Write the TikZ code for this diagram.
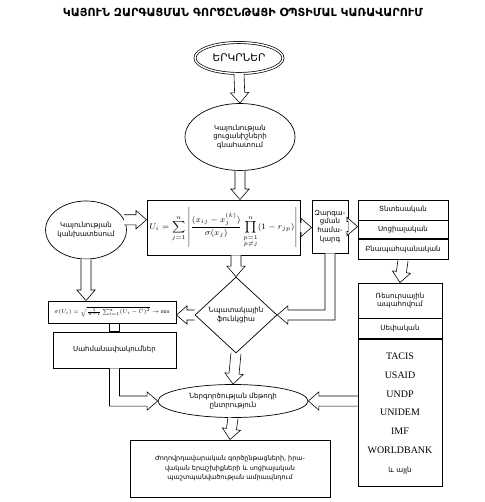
\documentclass[tikz,border=0pt]{standalone}
\usepackage{amsmath}
\usepackage{graphicx}
\usepackage{fontspec}
\setmainfont{Liberation Serif}
\newfontfamily\armfont[Script=Armenian]{DejaVu Sans}
\usetikzlibrary{shapes.geometric, calc, positioning}

\newcommand{\pipehw}{4.3pt}
\newcommand{\headhw}{7.8pt}
\newcommand{\headlen}{9pt}
% hollow block arrow from #1 to tip #2
\newcommand{\pipearrow}[2]{%
  \path (#1) coordinate (pa-s) (#2) coordinate (pa-t);
  \path ($(pa-t)!\headlen!(pa-s)$) coordinate (pa-b);
  \draw[pipe] ($(pa-s)!\pipehw!90:(pa-t)$) -- ($(pa-b)!\pipehw!90:(pa-t)$)
    -- ($(pa-b)!\headhw!90:(pa-t)$) -- (pa-t) -- ($(pa-b)!\headhw!-90:(pa-t)$)
    -- ($(pa-b)!\pipehw!-90:(pa-t)$) -- ($(pa-s)!\pipehw!-90:(pa-t)$);
}

\tikzset{
  pipe/.style={draw=black, fill=white, line width=0.5pt},
  box/.style={draw, line width=0.8pt, inner sep=1pt, align=center,
    font=\armfont\fontsize{6}{7.5}\selectfont},
  oval/.style={ellipse, draw, line width=0.6pt, inner sep=0pt, align=center,
    font=\armfont\fontsize{6}{7.5}\selectfont},
}

\begin{document}
\begin{tikzpicture}[x=0.03cm, y=-0.03cm]
\useasboundingbox (0,0) rectangle (485,502);

\node[font=\armfont\bfseries\fontsize{9.5}{11}\selectfont] (title) at (243,13)
  {ԿԱՅՈՒՆ ԶԱՐԳԱՑՄԱՆ ԳՈՐԾԸՆԹԱՑԻ ՕՊՏԻՄԱԼ ԿԱՌԱՎԱՐՈՒՄ};

\node[oval, double, double distance=1.2pt, line width=0.6pt, minimum width=2.64cm, minimum height=0.93cm,
  font=\armfont\fontsize{9}{10}\selectfont] (cntr) at (239,58) {ԵՐԿՐՆԵՐ};
\node[oval, minimum width=3.3cm, minimum height=2.01cm] (eval) at (240,137)
  {Կայունության\\ցուցանիշների\\գնահատում};
\node[oval, minimum width=2.28cm, minimum height=1.74cm] (stab) at (86,230)
  {Կայունության\\կանխատեսում};

\node[box, minimum width=4.59cm, minimum height=1.65cm, font=\fontsize{7}{8}\selectfont] (form) at (223.5,227.5)
  {$\displaystyle U_i=\sum_{j=1}^{n}\left|\frac{(x_{ij}-x_j^{(k)})}{\sigma(x_j)}
   \prod_{\substack{p=1\\p\neq j}}^{n}(1-r_{jp})\right|$};
\node[box, minimum width=1.08cm, minimum height=1.59cm] (sys) at (330,226.5)
  {Զարգա-\\ցման\\համա-\\կարգ};

\node[box, minimum width=2.7cm, minimum height=0.6cm] (dim1) at (403,210) {Տնտեսական};
\node[box, minimum width=2.7cm, minimum height=0.54cm, below=0pt of dim1] (dim2) {Սոցիալական};
\node[box, minimum width=2.7cm, minimum height=0.6cm, below=0pt of dim2] (dim3) {Բնապահպանական};

\node[diamond, draw, line width=0.6pt, inner sep=0pt, minimum width=2.46cm, minimum height=2.28cm,
  align=center, font=\armfont\fontsize{6}{7.5}\selectfont] (goal) at (236,315)
  {Նպատակային\\ֆունկցիա};

\node[box, minimum width=3.84cm, minimum height=0.66cm] (sig) at (112,312)
  {\resizebox{3.45cm}{!}{$\sigma(U_i)=\sqrt{\frac{1}{n-1}\sum_{i=1}^{n}(U_i-\bar{U})^2}\to\min$}};
\node[box, minimum width=3.69cm, minimum height=1.08cm] (lim) at (114.5,350) {Սահմանափակումներ};

\node[oval, minimum width=4.5cm, minimum height=0.99cm] (ell3) at (233,401)
  {Ներգործության մեթոդի\\ընտրություն};

\node[box, minimum width=2.52cm, minimum height=1.05cm] (res1) at (400,300.5) {Ռեսուրսային\\ապահովում};
\node[box, minimum width=2.52cm, minimum height=0.6cm, below=0pt of res1] (res2) {Սեփական};
\node[box, minimum width=2.52cm, minimum height=4.41cm, below=0pt of res2, font=\fontsize{8.5}{16}\selectfont] (res3)
  {TACIS\\USAID\\UNDP\\UNIDEM\\IMF\\WORLDBANK\\{\armfont\fontsize{6}{7}\selectfont և այլն}};

\node[box, minimum width=6cm, minimum height=1.71cm, font=\armfont\fontsize{5.5}{8}\selectfont] (rec) at (230,468.5)
  {Ժողովրդավարական գործընթացների, իրա-\\վական երաշխիքների և սոցիալական\\պաշտպանվածության ամրապնդում};

% connectors
\pipearrow{cntr.south}{eval.north}
\pipearrow{eval.south}{eval.south |- form.north}
\pipearrow{stab.15}{form.west |- stab.15}
\pipearrow{stab.south}{stab.south |- sig.north}
\pipearrow{goal.north |- form.south}{goal.north}
\pipearrow{form.east}{sys.west |- form.east}
\pipearrow{sys.east}{dim1.west |- sys.east}
\pipearrow{dim3.south}{res1.north}
\pipearrow{goal.west}{sig.east |- goal.west}
\pipearrow{goal.south}{ell3.north}
\pipearrow{res3.west |- ell3.east}{ell3.east}
\pipearrow{ell3.south}{rec.north}
\draw[pipe] ($(lim.north |- sig.south)+(-\pipehw,0)$) rectangle ($(lim.north)+(\pipehw,0)$);
\draw[pipe] ($(lim.south)+(-\pipehw,0)$) |- ($(ell3.west)+(-\headlen,-\pipehw)$)
  -- ($(ell3.west)+(-\headlen,-\headhw)$) -- (ell3.west) -- ($(ell3.west)+(-\headlen,\headhw)$)
  -- ($(ell3.west)+(-\headlen,\pipehw)$) -| ($(lim.south)+(\pipehw,0)$);
\draw[pipe] ($(sys.south)+(\pipehw,0)$) |- ($(goal.east)+(\headlen,-\pipehw)$)
  -- ($(goal.east)+(\headlen,-\headhw)$) -- (goal.east) -- ($(goal.east)+(\headlen,\headhw)$)
  -- ($(goal.east)+(\headlen,\pipehw)$) -| ($(sys.south)+(-\pipehw,0)$);
\end{tikzpicture}
\end{document}
